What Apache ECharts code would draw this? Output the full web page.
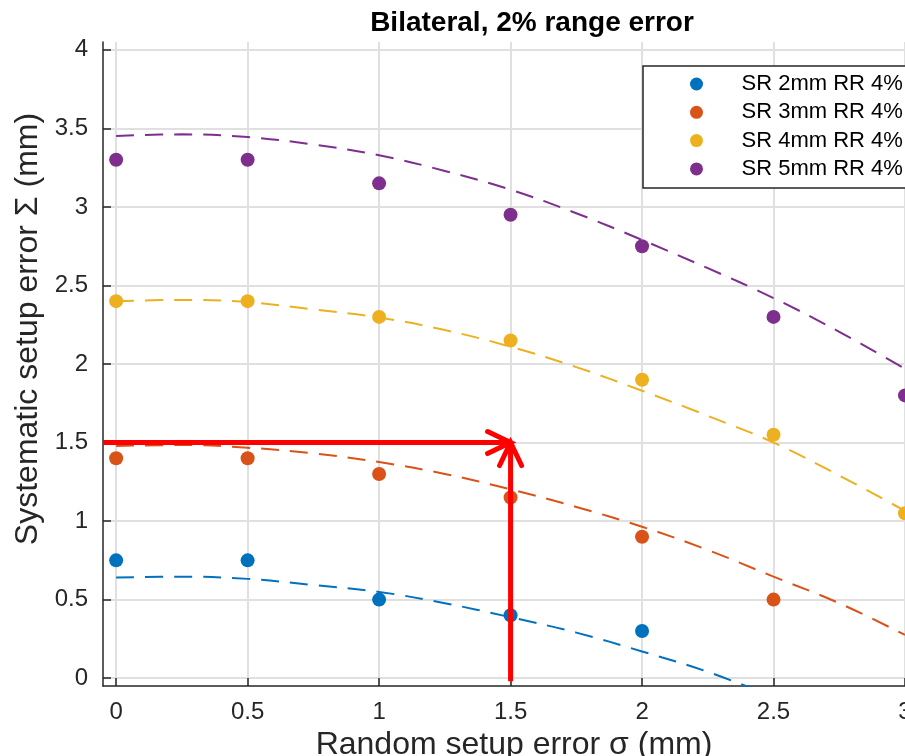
<!DOCTYPE html>
<html>
<head>
<meta charset="utf-8">
<script src="https://cdn.jsdelivr.net/npm/echarts@6/dist/echarts.min.js"></script>
<style>
html, body { margin: 0; padding: 0; background: #fff; }
#chart { width: 905px; height: 756px; }
</style>
</head>
<body>
<div id="chart"></div>
<script>
// measured points (random setup error sigma vs systematic error Sigma)
const sigma = [0, 0.5, 1, 1.5, 2, 2.5, 3]
const sr2 = [0.75, 0.75, 0.5, 0.4, 0.3]
const sr3 = [1.4, 1.4, 1.3, 1.15, 0.9, 0.5]
const sr4 = [2.4, 2.4, 2.3, 2.15, 1.9, 1.55, 1.05]
const sr5 = [3.3, 3.3, 3.15, 2.95, 2.75, 2.3, 1.8]

const fitX = [0, 0.25, 0.5, 0.75, 1, 1.25, 1.5, 1.75, 2, 2.25, 2.5, 2.75, 3]
const fit2 = [0.64, 0.646, 0.632, 0.593, 0.549, 0.477, 0.388, 0.29, 0.17, 0.04, -0.12]
const fit3 = [1.478, 1.484, 1.467, 1.431, 1.376, 1.3, 1.202, 1.09, 0.964, 0.816, 0.646, 0.477, 0.275]
const fit4 = [2.4, 2.408, 2.394, 2.347, 2.296, 2.216, 2.11, 1.98, 1.83, 1.67, 1.5, 1.29, 1.065]
const fit5 = [3.452, 3.462, 3.445, 3.397, 3.329, 3.229, 3.11, 2.96, 2.79, 2.61, 2.42, 2.205, 1.97]

const names = ['SR 2mm RR 4%', 'SR 3mm RR 4%', 'SR 4mm RR 4%', 'SR 5mm RR 4%']
const colors = ['#0072BD', '#D95319', '#EDB120', '#7E2F8E']

const xTicks = [0, 0.5, 1, 1.5, 2, 2.5, 3]
const yTicks = [0, 0.5, 1, 1.5, 2, 2.5, 3, 3.5, 4]

// arrows point at this (sigma, Sigma) pair
const target = [1.5, 1.5]

const points = [sr2, sr3, sr4, sr5]
const fits = [fit2, fit3, fit4, fit5]

const font = 'Liberation Sans'
const ink = '#262626'

const chart = echarts.init(document.getElementById('chart'))

const axisCommon = {
  axisLine: { onZero: false, lineStyle: { color: ink, width: 1.5 } },
  axisTick: { inside: true, length: 8, lineStyle: { color: ink, width: 1.5 } },
  splitLine: { show: true, lineStyle: { color: '#e0e0e0', width: 2 } },
  nameTextStyle: { color: ink, fontSize: 32, fontFamily: font }
}

const option = {
  backgroundColor: '#fff',
  animation: false,
  title: {
    text: 'Bilateral, 2% range error',
    left: 527,
    top: 4,
    textAlign: 'center',
    textStyle: { color: '#000', fontSize: 28, fontWeight: 'bold', fontFamily: font }
  },
  legend: {
    orient: 'vertical',
    left: 643,
    top: 66,
    padding: [7, 30, 8, 47],
    itemWidth: 80,
    itemHeight: 13,
    itemGap: 6.3,
    borderColor: ink,
    borderWidth: 1.5,
    backgroundColor: '#fff',
    data: names.map((n, i) => ({ name: n, icon: 'circle', itemStyle: { color: colors[i] } })),
    textStyle: { color: '#000', fontSize: 22, lineHeight: 22, fontFamily: font }
  },
  grid: { left: 103, right: 0, top: 42, bottom: 70, outerBoundsMode: 'none' },
  xAxis: {
    ...axisCommon,
    type: 'value',
    min: -0.05,
    max: 3,
    name: 'Random setup error σ (mm)',
    nameLocation: 'middle',
    nameGap: 38,
    nameTextStyle: { ...axisCommon.nameTextStyle, padding: [0, 0, 0, 20] },
    axisTick: { ...axisCommon.axisTick, customValues: xTicks },
    axisLabel: { customValues: xTicks, color: ink, fontSize: 24, fontFamily: font, margin: 14 }
  },
  yAxis: {
    ...axisCommon,
    type: 'value',
    min: -0.05,
    max: 4.05,
    name: 'Systematic setup error Σ (mm)',
    nameLocation: 'middle',
    nameGap: 57,
    nameTextStyle: { ...axisCommon.nameTextStyle, padding: [0, 0, 0, 70] },
    axisTick: { ...axisCommon.axisTick, customValues: yTicks },
    axisLabel: { customValues: yTicks, color: ink, fontSize: 24, fontFamily: font, margin: 15 }
  },
  series: [
    ...fits.map((f, i) => ({
      name: names[i] + ' fit',
      type: 'line',
      data: f.map((v, j) => [fitX[j], v]),
      smooth: 0.4,
      showSymbol: false,
      clip: true,
      z: 2,
      lineStyle: { color: colors[i], width: 2, type: [18, 11] }
    })),
    ...points.map((p, i) => ({
      name: names[i],
      type: 'scatter',
      data: p.map((v, j) => [sigma[j], v]),
      symbolSize: 14,
      z: 3,
      itemStyle: { color: colors[i], opacity: 1 }
    }))
  ]
}

chart.setOption(option)

// red arrows drawn in pixels from data positions
const px = p => chart.convertToPixel({ xAxisIndex: 0, yAxisIndex: 0 }, p)
const tip = px(target)
const hStart = px([-0.05, target[1]])
const vStart = px([target[0], -0.02])
const red = { stroke: '#ff0000', lineWidth: 5, lineCap: 'round', lineJoin: 'miter', fill: null }

chart.setOption({
  graphic: [
    { type: 'polyline', z: 100, shape: { points: [hStart, tip] }, style: { ...red, lineCap: 'butt' } },
    { type: 'polyline', z: 100, shape: { points: [[tip[0] - 23, tip[1] - 11], tip, [tip[0] - 23, tip[1] + 11]] }, style: red },
    { type: 'polyline', z: 100, shape: { points: [vStart, tip] }, style: { ...red, lineCap: 'butt' } },
    { type: 'polyline', z: 100, shape: { points: [[tip[0] - 11, tip[1] + 23], tip, [tip[0] + 11, tip[1] + 23]] }, style: red }
  ]
})
</script>
</body>
</html>
